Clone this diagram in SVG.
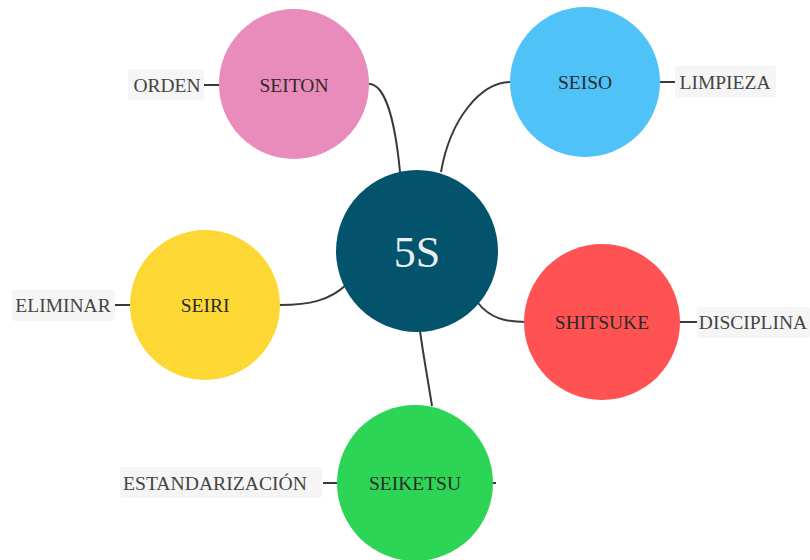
<svg xmlns="http://www.w3.org/2000/svg" width="810" height="560" viewBox="0 0 810 560">
<style>
text{font-family:"Liberation Serif",serif !important}
.node text{font-size:19.5px;fill:#2b2b2b;text-anchor:middle;dominant-baseline:central}
.lbl rect{fill:#f5f5f5}
.lbl text{font-size:19.5px;fill:#444;text-anchor:middle;dominant-baseline:central}
.conn path{fill:none;stroke:#3a3a3a;stroke-width:2}
</style>
<rect width="810" height="560" fill="#fff"/>
<g id="connectors" class="conn">
<path d="M400,172 C395,120 385,84 369,84"/>
<path d="M441,172 C450,120 480,82 511,82"/>
<path d="M346,285 C330,300 310,305 280,305"/>
<path d="M478,303 C490,318 505,322 526,322"/>
<path d="M420,331 C424,360 428,380 432,406"/>
<path d="M204,85 L220,85"/>
<path d="M660,82 L675,82"/>
<path d="M115,305 L131,305"/>
<path d="M680,322 L697,322"/>
<path d="M323,483 L338,483"/>
<path d="M492,483 L496,483"/>
</g>
<g id="center" class="node"><circle cx="417" cy="251" r="81" fill="#02536b"/><text x="417" y="252" style="font-family:'Liberation Serif',serif;font-size:44px;fill:#e8eef0">5S</text></g>
<g id="seiton" class="node"><circle cx="294" cy="84" r="75" fill="#e98bbb"/><text x="294" y="85" style="font-family:'Liberation Serif',serif">SEITON</text></g>
<g id="seiso" class="node"><circle cx="585" cy="82" r="75" fill="#4fc3f7"/><text x="585" y="82" style="font-family:'Liberation Serif',serif">SEISO</text></g>
<g id="seiri" class="node"><circle cx="205" cy="305" r="75" fill="#fdd835"/><text x="205" y="305" style="font-family:'Liberation Serif',serif">SEIRI</text></g>
<g id="shitsuke" class="node"><circle cx="602" cy="322" r="78" fill="#ff5252"/><text x="602" y="322" style="font-family:'Liberation Serif',serif">SHITSUKE</text></g>
<g id="seiketsu" class="node"><circle cx="415" cy="483" r="78" fill="#2dd556"/><text x="415" y="483" style="font-family:'Liberation Serif',serif">SEIKETSU</text></g>
<g id="orden" class="lbl"><rect x="128" y="69" width="76" height="31" rx="3"/><text x="167" y="85" style="font-family:'Liberation Serif',serif">ORDEN</text></g>
<g id="limpieza" class="lbl"><rect x="675" y="66" width="101" height="31" rx="3"/><text x="725" y="82" style="font-family:'Liberation Serif',serif">LIMPIEZA</text></g>
<g id="eliminar" class="lbl"><rect x="12" y="290" width="103" height="31" rx="3"/><text x="63" y="305" style="font-family:'Liberation Serif',serif">ELIMINAR</text></g>
<g id="disciplina" class="lbl"><rect x="697" y="307" width="113" height="31" rx="3"/><text x="753" y="322" style="font-family:'Liberation Serif',serif">DISCIPLINA</text></g>
<g id="estandarizacion" class="lbl"><rect x="120" y="467" width="202" height="31" rx="3"/><text x="215" y="483" style="font-family:'Liberation Serif',serif" textLength="184" lengthAdjust="spacingAndGlyphs">ESTANDARIZACIÓN</text></g>
</svg>
